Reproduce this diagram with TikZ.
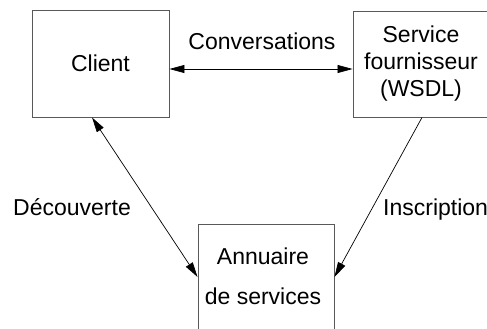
\documentclass[tikz,border=0pt]{standalone}
\usepackage{fontspec}
\setmainfont{Liberation Sans}
\usetikzlibrary{arrows.meta}
\begin{document}
\begin{tikzpicture}[x=1pt,y=-1pt,
  box/.style={draw=black!65, line width=0.9pt, inner sep=0pt, align=center,
    font=\fontsize{23}{27}\selectfont},
  txt/.style={inner sep=0pt, align=center, font=\fontsize{23}{27}\selectfont},
  conn/.style={draw=black, line width=0.7pt},
  tip/.style={-{Triangle[length=15pt,width=8pt]}},
  tips/.style={{Triangle[length=15pt,width=8pt]}-{Triangle[length=15pt,width=8pt]}}]
\useasboundingbox (0,0) rectangle (487,329);
\node[box, minimum width=137pt, minimum height=107pt] (client) at (100.5,63.5) {Client};
\node[box, minimum width=136pt, minimum height=106pt] (service) at (421,64) {Service\\fournisseur\\(WSDL)};
\node[box, minimum width=136pt, minimum height=111pt] (annuaire) at (266,279.5) {};
\node[txt] (annuairetext) at (263,276) {Annuaire\\[13pt]de services};
\node[txt, anchor=base] (conv) at (262,50) {Conversations};
\node[txt, anchor=base] (decouv) at (72,215) {Découverte};
\node[txt, anchor=base west] (inscr) at (383,215) {Inscription};
\draw[conn, tips] (client.east |- 0,69) -- (service.west |- 0,69);
\draw[conn, tips] ([xshift=-8.5pt]client.south) -- ([yshift=2.5pt]annuaire.west);
\draw[conn, tip] ([xshift=1pt]service.south) -- ([yshift=2.5pt]annuaire.east);
\end{tikzpicture}
\end{document}
